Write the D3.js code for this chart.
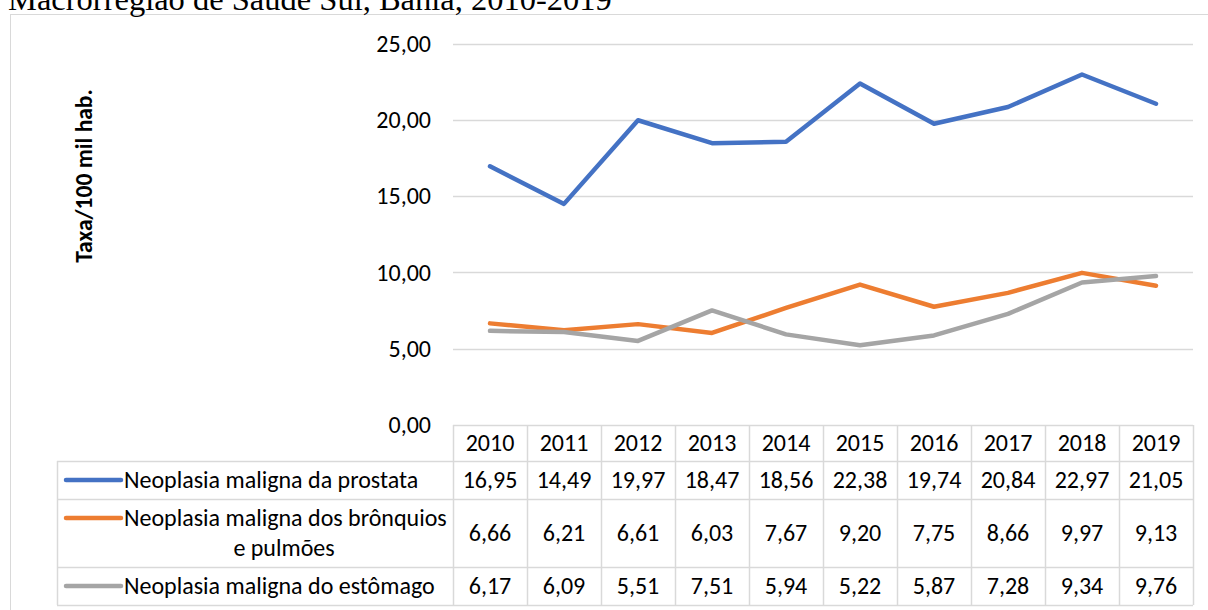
<!DOCTYPE html>
<html>
<head>
<meta charset="utf-8">
<script src="https://cdn.jsdelivr.net/npm/d3@7"></script>
<style>
  body { margin: 0; background: #fff; }
  svg { display: block; }
</style>
</head>
<body>
<svg id="chart" width="1208" height="610"></svg>
<script>
// data
const years = ["2010", "2011", "2012", "2013", "2014", "2015", "2016", "2017", "2018", "2019"];
const prostata = [16.95, 14.49, 19.97, 18.47, 18.56, 22.38, 19.74, 20.84, 22.97, 21.05];
const bronquios = [6.66, 6.21, 6.61, 6.03, 7.67, 9.20, 7.75, 8.66, 9.97, 9.13];
const estomago = [6.17, 6.09, 5.51, 7.51, 5.94, 5.22, 5.87, 7.28, 9.34, 9.76];
const seriesNames = [
    ["Neoplasia maligna da prostata"],
    ["Neoplasia maligna dos brônquios", "e pulmões"],
    ["Neoplasia maligna do estômago"]
];
const yTicks = [0, 5, 10, 15, 20, 25];
const title = "Macrorregião de Saúde Sul, Bahia, 2010-2019";
const yLabel = "Taxa/100 mil hab.";

const colors = ["#4472C4", "#ED7D31", "#A5A5A5"];
const series = [prostata, bronquios, estomago];
const font = "Carlito, Calibri, 'Open Sans', sans-serif";
const gridColor = "#d9d9d9";
const fs = 24;

const svg = d3.select("#chart");
const fmt = v => d3.format(".2f")(v).replace(".", ",");

// outer frame
svg.append("rect")
    .attr("x", 10.5).attr("y", 14.5)
    .attr("width", 1210).attr("height", 620)
    .attr("fill", "none")
    .attr("stroke", gridColor);

// title (cut at top like the source)
svg.append("text")
    .attr("x", 8).attr("y", 10)
    .attr("font-family", "'Liberation Serif', 'Times New Roman', serif")
    .attr("font-size", 32.5)
    .text(title);

const x = d3.scaleBand().domain(years).range([453, 1193]);
const y = d3.scaleLinear().domain([0, 25]).range([425, 43.5]);

// gridlines
svg.append("g")
    .selectAll("line")
    .data(yTicks.filter(t => t > 0))
    .join("line")
    .attr("x1", 453).attr("x2", 1193)
    .attr("y1", d => Math.round(y(d)) + 0.5)
    .attr("y2", d => Math.round(y(d)) + 0.5)
    .attr("stroke", gridColor)
    .attr("stroke-width", 1.5);

// y axis labels
const yAxis = svg.append("g")
    .attr("transform", "translate(453,0)")
    .call(d3.axisLeft(y).tickValues(yTicks).tickFormat(fmt).tickSize(0).tickPadding(22));
yAxis.select(".domain").remove();
yAxis.selectAll("text")
    .attr("font-family", font)
    .attr("font-size", fs)
    .attr("fill", "#000");

svg.append("text")
    .attr("transform", "translate(92,176) rotate(-90)")
    .attr("text-anchor", "middle")
    .attr("font-family", font)
    .attr("font-weight", "bold")
    .attr("font-size", 23.5)
    .text(yLabel);

// lines
const line = d3.line()
    .x((d, i) => x(years[i]) + x.bandwidth() / 2)
    .y(d => y(d));

svg.append("g")
    .selectAll("path")
    .data(series)
    .join("path")
    .attr("d", line)
    .attr("fill", "none")
    .attr("stroke", (d, i) => colors[i])
    .attr("stroke-width", 4.5)
    .attr("stroke-linejoin", "round")
    .attr("stroke-linecap", "round");

// data table
const rowEdges = [425, 461, 499, 567, 605];
const legendLeft = 57;
const table = svg.append("g")
    .attr("font-family", font)
    .attr("font-size", fs);

// horizontal rules
rowEdges.forEach((e, i) => {
    table.append("line")
        .attr("x1", i === 0 ? 453 : legendLeft).attr("x2", 1193)
        .attr("y1", e + 0.5).attr("y2", e + 0.5)
        .attr("stroke", gridColor).attr("stroke-width", 1.5);
});
// vertical rules
const colEdges = years.map(d => x(d)).concat([1193]);
colEdges.forEach(c => {
    table.append("line")
        .attr("x1", c + 0.5).attr("x2", c + 0.5)
        .attr("y1", rowEdges[0]).attr("y2", rowEdges[4])
        .attr("stroke", gridColor).attr("stroke-width", 1.5);
});
table.append("line")
    .attr("x1", legendLeft + 0.5).attr("x2", legendLeft + 0.5)
    .attr("y1", rowEdges[1]).attr("y2", rowEdges[4])
    .attr("stroke", gridColor).attr("stroke-width", 1.5);

// header years
table.append("g")
    .selectAll("text")
    .data(years)
    .join("text")
    .attr("x", d => x(d) + x.bandwidth() / 2)
    .attr("y", (rowEdges[0] + rowEdges[1]) / 2)
    .attr("dy", "0.35em")
    .attr("text-anchor", "middle")
    .text(d => d);

// rows
series.forEach((vals, r) => {
    const cy = (rowEdges[r + 1] + rowEdges[r + 2]) / 2;
    table.append("g")
        .selectAll("text")
        .data(vals)
        .join("text")
        .attr("x", (d, i) => x(years[i]) + x.bandwidth() / 2)
        .attr("y", cy)
        .attr("dy", "0.35em")
        .attr("text-anchor", "middle")
        .text(d => fmt(d));

    const names = seriesNames[r];
    const ly = names.length > 1 ? cy - 15 : cy;
    table.append("line")
        .attr("x1", 66).attr("x2", 121)
        .attr("y1", ly).attr("y2", ly)
        .attr("stroke", colors[r])
        .attr("stroke-width", 4.5)
        .attr("stroke-linecap", "round");
    names.forEach((n, k) => {
        table.append("text")
            .attr("x", k === 0 ? 124 : 284)
            .attr("y", ly + k * 30)
            .attr("dy", "0.35em")
            .attr("text-anchor", k === 0 ? "start" : "middle")
            .text(n);
    });
});
</script>
</body>
</html>
